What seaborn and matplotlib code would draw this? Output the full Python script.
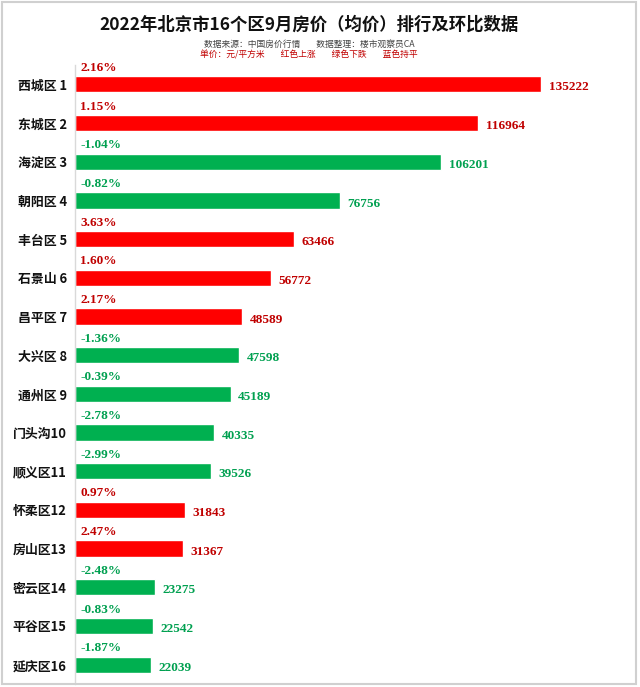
import matplotlib
matplotlib.use("Agg")
import matplotlib.pyplot as plt
import seaborn as sns
import pandas as pd
from matplotlib.patches import Rectangle

districts = ["西城区 1", "东城区 2", "海淀区 3", "朝阳区 4", "丰台区 5", "石景山 6", "昌平区 7", "大兴区 8",
             "通州区 9", "门头沟10", "顺义区11", "怀柔区12", "房山区13", "密云区14", "平谷区15", "延庆区16"]
prices = [135222, 116964, 106201, 76756, 63466, 56772, 48589, 47598,
          45189, 40335, 39526, 31843, 31367, 23275, 22542, 22039]
changes = [2.16, 1.15, -1.04, -0.82, 3.63, 1.60, 2.17, -1.36,
           -0.39, -2.78, -2.99, 0.97, 2.47, -2.48, -0.83, -1.87]

title = "2022年北京市16个区9月房价（均价）排行及环比数据"
sub1 = "数据来源：中国房价行情        数据整理：楼市观察员CA"
sub2 = "单价：元/平方米        红色上涨        绿色下跌        蓝色持平"

bar_colors = {"up": "#FF0000", "down": "#00B050"}
text_colors = {"up": "#C00000", "down": "#00A050"}

df = pd.DataFrame({"district": districts, "price": prices, "change": changes})
df["dir"] = ["up" if c > 0 else "down" for c in changes]

sns.set_style("white")
plt.rcParams["font.family"] = ["Noto Sans CJK SC", "DejaVu Sans"]

fig = plt.figure(figsize=(6.4, 6.87), dpi=100)
ax = fig.add_axes([75/640, 3/687, 560/640, (687-3-65)/687])

sns.barplot(data=df, y="district", x="price", hue="dir", palette=bar_colors,
            orient="h", dodge=False, width=0.42, legend=False, ax=ax, saturation=1)

ax.set_xlim(0, 135222 * 560 / 466)
ax.set_ylim(15.5, -0.5)
ax.set_xlabel("")
ax.set_ylabel("")
ax.set_xticks([])
for s in ["top", "right", "bottom"]:
    ax.spines[s].set_visible(False)
ax.spines["left"].set_color("#d9d9d9")
ax.spines["left"].set_linewidth(1)
ax.tick_params(axis="y", length=0, pad=6)
for lab in ax.get_yticklabels():
    lab.set_fontsize(9.3)
    lab.set_fontweight("bold")
    lab.set_color("#111111")

serif = ["Liberation Serif", "DejaVu Serif"]
for i, (p, c, d) in enumerate(zip(prices, changes, df["dir"])):
    ax.text(1500, i - 0.27, f"{c:.2f}%", ha="left", va="bottom", fontsize=9.5,
            fontweight="bold", color=text_colors[d], family=serif)
    ax.text(p + 2200, i + 0.08, f"{p}", ha="left", va="center", fontsize=9.5,
            fontweight="bold", color=text_colors[d], family=serif)

cx = 309 / 640
fig.text(cx, (687 - 25) / 687, title, ha="center", va="center", fontsize=12.5,
         fontweight="bold", color="#111111")
fig.text(cx, (687-44)/687, sub1, ha="center", va="center", fontsize=6.3, color="#444444")
fig.text(cx, (687-55)/687, sub2, ha="center", va="center", fontsize=6.3, color="#C00000")

fig.patches.append(Rectangle((0.003, 0.004), 0.99, 0.993, transform=fig.transFigure,
                             fill=False, edgecolor="#d0d0d0", linewidth=1.5))

fig.savefig("out.png", dpi=100)
